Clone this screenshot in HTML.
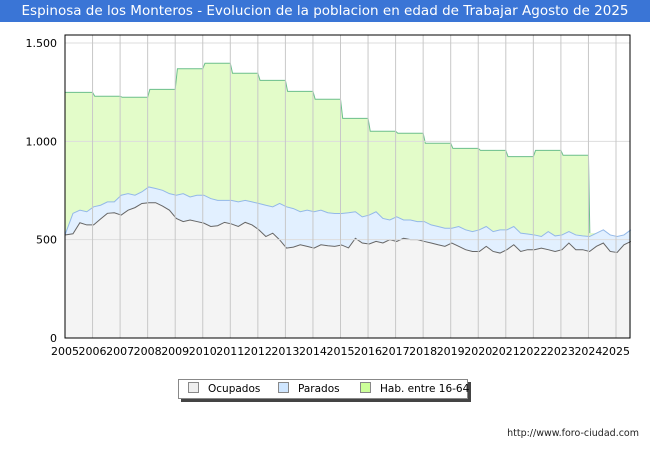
<!DOCTYPE html>
<html><head><meta charset="utf-8"><style>
body{margin:0;width:650px;height:450px;background:#fff;font-family:"DejaVu Sans","Liberation Sans",sans-serif;overflow:hidden;position:relative}
#hdr{position:absolute;left:0;top:0;width:650px;height:22px;background:#3a75d6;color:#fff;font-size:13.5px;line-height:22px;text-align:center;white-space:nowrap}
#legend{position:absolute;left:178px;top:379px;width:288px;height:18px;border:1px solid #888;background:#fff;box-shadow:3px 3px 0 #444;font-size:10.5px;line-height:18px;white-space:nowrap}
.li{position:absolute;top:0;white-space:nowrap}
.sw{display:inline-block;width:9px;height:9px;border:1px solid #888;vertical-align:-1px;margin-right:9px}
#url{position:absolute;right:11px;top:428px;font-size:9.5px;color:#222}
</style></head><body>
<div id="hdr">Espinosa de los Monteros - Evolucion de la poblacion en edad de Trabajar Agosto de 2025</div>
<svg id="chart" width="650" height="450" style="position:absolute;left:0;top:0"></svg>
<div id="legend">
<span class="li" style="left:9px"><span class="sw" style="background:#eee"></span>Ocupados</span>
<span class="li" style="left:99px"><span class="sw" style="background:#cfe6ff"></span>Parados</span>
<span class="li" style="left:181px"><span class="sw" style="background:#ccff99"></span>Hab. entre 16-64</span>
</div>
<div id="url">http://www.foro-ciudad.com</div>
<script>
const years=[2005,2006,2007,2008,2009,2010,2011,2012,2013,2014,2015,2016,2017,2018,2019,2020,2021,2022,2023,2024,2025];
const yTicks=[0,500,1000,1500];
const yTickLabels=["0","500","1.000","1.500"];
const hab=[1249,1229,1224,1264,1369,1397,1346,1310,1254,1214,1117,1051,1041,990,964,954,922,954,929];
const ocupados=[524,530,586,575, 575,605,634,637, 625,650,663,684, 688,688,671,650, 608,592,600,592, 584,567,571,588, 580,567,588,575, 550,516,533,499, 457,462,474,466, 457,474,469,466, 473,458,507,483, 478,491,483,500, 491,507,500,500, 491,483,474,466, 483,466,449,440, 440,466,440,432, 449,474,440,449, 449,457,449,440, 449,483,449,449, 440,466,483,440, 435,474,491];
const parados=[0,104,64,67, 92,70,58,55, 101,84,63,59, 80,72,80,84, 118,142,117,134, 142,142,129,112, 120,125,112,117, 134,159,134,185, 210,196,168,184, 185,176,168,167, 160,179,135,133, 147,151,125,100, 125,93,100,92, 101,92,93,92, 75,101,101,101, 110,101,101,118, 101,93,93,80, 75,59,92,79, 75,58,75,70, 76,67,67,84, 81,50,59];
const L=65,R=630,T=35,B=338,Y0=2005,PXY=27.55;
const X=t=>L+(t-Y0)*PXY, Y=v=>B-v*(295/1500);
const svg=document.getElementById('chart');const NS='http://www.w3.org/2000/svg';
function mk(tag,a,name,parent){const e=document.createElementNS(NS,tag);for(const k in a)e.setAttribute(k,a[k]);


(parent||svg).appendChild(e);return e;}
mk('rect',{x:L,y:T,width:R-L,height:B-T,fill:'#fff'},'plot-area');
const tt=i=>Y0+i*0.25+0.04;
const tot=ocupados.map((o,i)=>o+parados[i]);
const last=tt(ocupados.length-1);
let g=[];hab.forEach((h,i)=>{g.push([X(years[i]+(i?0.08:0)),Y(h)]);g.push([X(years[i]+1),Y(h)]);});
const startTot=tot.findIndex((v,i)=>tt(i)>=2024.05);
g.push([X(2024.05),Y(tot[startTot])]);
for(let i=startTot;i<tot.length;i++)g.push([X(tt(i)),Y(tot[i])]);
const gp=g.map(p=>p.join(',')).join(' ');
mk('polygon',{points:gp+` ${X(last)},${B} ${L},${B}`,fill:'#e3fcc9'},'hab-area');
mk('polyline',{points:g.slice(0,hab.length*2+1).map(p=>p.join(',')).join(' '),fill:'none',stroke:'#6cbf8c','stroke-width':1},'hab-line');
const pts=arr=>arr.map((v,i)=>X(i?tt(i):Y0)+','+Y(v)).join(' ');
mk('polygon',{points:pts(tot)+` ${X(last)},${B} ${L},${B}`,fill:'#e2f0ff'},'parados-area');
mk('polyline',{points:pts(tot),fill:'none',stroke:'#93b8e8','stroke-width':1},'parados-line');
mk('polygon',{points:pts(ocupados)+` ${X(last)},${B} ${L},${B}`,fill:'#f4f4f4'},'ocupados-area');
mk('polyline',{points:pts(ocupados),fill:'none',stroke:'#666','stroke-width':1},'ocupados-line');
yTicks.forEach((v,i)=>{if(v>0)mk('line',{x1:L,x2:R,y1:Y(v),y2:Y(v),stroke:'#ddd','stroke-width':1},'y-gridline');
const t=mk('text',{x:L-8,y:Y(v)+4,'text-anchor':'end','font-size':11,fill:'#000'},'y-tick-label');t.textContent=yTickLabels[i];});
years.forEach(y=>{if(y>Y0)mk('line',{x1:X(y),x2:X(y),y1:T,y2:B,stroke:'#c8c8c8','stroke-width':1},'x-gridline');
const t=mk('text',{x:X(y),y:B+17,'text-anchor':'middle','font-size':11,fill:'#000'},'x-tick-label');t.textContent=y;});
mk('rect',{x:L,y:T,width:R-L,height:B-T,fill:'none',stroke:'#000','stroke-width':1},'plot-border');
</script>
</body></html>
